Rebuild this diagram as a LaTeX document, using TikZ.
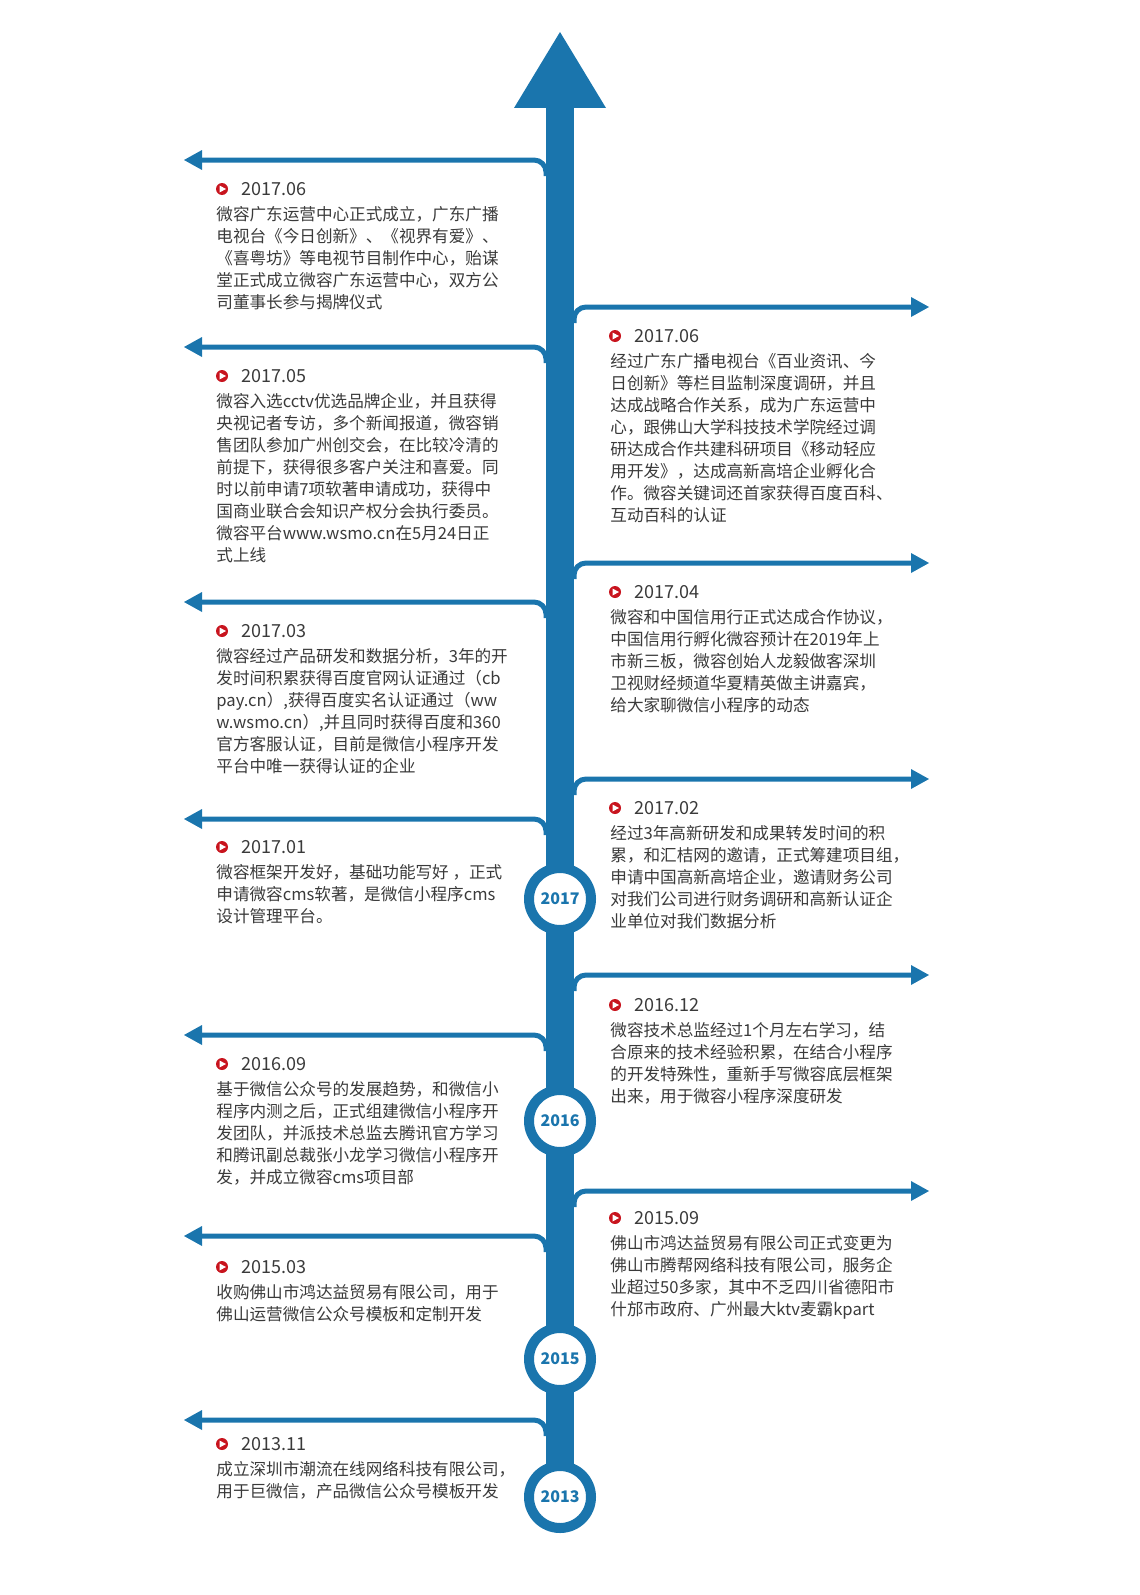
\documentclass[tikz,border=0pt]{standalone}
\usepackage{fontspec}
\setmainfont{Noto Sans CJK SC}
\usetikzlibrary{positioning}
\definecolor{trunkblue}{HTML}{1A75AD}
\definecolor{bulletred}{HTML}{C8141E}
\definecolor{textgray}{HTML}{3A3A3A}
\tikzset{
  txt/.style={anchor=north west,inner sep=0pt,align=left,text=textgray,font=\fontsize{8.3}{11}\selectfont},
  datetxt/.style={anchor=west,inner sep=0pt,text=textgray,font=\fontsize{9}{10}\selectfont},
  yearring/.style={circle,draw=trunkblue,line width=5pt,fill=white,minimum size=31pt,inner sep=0pt,text=trunkblue,font=\bfseries\fontsize{8}{9}\selectfont},
  branch/.style={draw=trunkblue,line width=2.5pt,rounded corners=6pt}
}
\newcommand{\bulletmark}[2]{%
  \fill[bulletred] (#1,#2) circle (6);
  \fill[white] (#1-2.5,#2-3.5) -- (#1+4,#2) -- (#1-2.5,#2+3.5) -- cycle;}
\newcommand{\leftbranch}[1]{%
  \draw[branch] (546,#1+16) |- (200,#1);
  \fill[trunkblue] (184,#1) -- (202,#1-10) -- (202,#1+10) -- cycle;}
\newcommand{\rightbranch}[1]{%
  \draw[branch] (574,#1+16) |- (912,#1);
  \fill[trunkblue] (929,#1) -- (911,#1-10) -- (911,#1+10) -- cycle;}
\newcommand{\lefttext}[4]{%
  \bulletmark{222}{#1}
  \node[datetxt] (#2) at (241,#1) {#3};
  \node[txt] (#2t) at (216,#1+17) {#4};}
\newcommand{\righttext}[4]{%
  \bulletmark{615}{#1}
  \node[datetxt] (#2) at (634,#1) {#3};
  \node[txt] (#2t) at (610,#1+17) {#4};}
\begin{document}
\begin{tikzpicture}[x=0.5pt,y=-0.5pt]
\useasboundingbox (0,0) rectangle (1140,1595);
% trunk
\fill[trunkblue] (546,100) rectangle (574,1480);
\fill[trunkblue] (560,32) -- (606,108) -- (514,108) -- cycle;
% branches
\foreach \yy in {160,347,602,819,1035,1236,1420} {\leftbranch{\yy}}
\foreach \yy in {307,563,779,975,1191} {\rightbranch{\yy}}
% years
\node[yearring] (y2017) at (560,899) {2017};
\node[yearring] (y2016) at (560,1121) {2016};
\node[yearring] (y2015) at (560,1359) {2015};
\node[yearring] (y2013) at (560,1497) {2013};
% left entries
\lefttext{189}{l1}{2017.06}{微容广东运营中心正式成立，广东广播\\电视台《今日创新》、《视界有爱》、\\《喜粤坊》等电视节目制作中心，贻谋\\堂正式成立微容广东运营中心，双方公\\司董事长参与揭牌仪式}
\lefttext{376}{l2}{2017.05}{微容入选cctv优选品牌企业，并且获得\\央视记者专访，多个新闻报道，微容销\\售团队参加广州创交会，在比较冷清的\\前提下，获得很多客户关注和喜爱。同\\时以前申请7项软著申请成功，获得中\\国商业联合会知识产权分会执行委员。\\微容平台www.wsmo.cn在5月24日正\\式上线}
\lefttext{631}{l3}{2017.03}{微容经过产品研发和数据分析，3年的开\\发时间积累获得百度官网认证通过（cb\\pay.cn）,获得百度实名认证通过（ww\\w.wsmo.cn）,并且同时获得百度和360\\官方客服认证，目前是微信小程序开发\\平台中唯一获得认证的企业}
\lefttext{847}{l4}{2017.01}{微容框架开发好，基础功能写好 ，正式\\申请微容cms软著，是微信小程序cms\\设计管理平台。}
\lefttext{1064}{l5}{2016.09}{基于微信公众号的发展趋势，和微信小\\程序内测之后，正式组建微信小程序开\\发团队，并派技术总监去腾讯官方学习\\和腾讯副总裁张小龙学习微信小程序开\\发，并成立微容cms项目部}
\lefttext{1267}{l6}{2015.03}{收购佛山市鸿达益贸易有限公司，用于\\佛山运营微信公众号模板和定制开发}
\lefttext{1444}{l7}{2013.11}{成立深圳市潮流在线网络科技有限公司，\\用于巨微信，产品微信公众号模板开发}
% right entries
\righttext{336}{r1}{2017.06}{经过广东广播电视台《百业资讯、今\\日创新》等栏目监制深度调研，并且\\达成战略合作关系，成为广东运营中\\心，跟佛山大学科技技术学院经过调\\研达成合作共建科研项目《移动轻应\\用开发》，达成高新高培企业孵化合\\作。微容关键词还首家获得百度百科、\\互动百科的认证}
\righttext{592}{r2}{2017.04}{微容和中国信用行正式达成合作协议，\\中国信用行孵化微容预计在2019年上\\市新三板，微容创始人龙毅做客深圳\\卫视财经频道华夏精英做主讲嘉宾，\\给大家聊微信小程序的动态}
\righttext{808}{r3}{2017.02}{经过3年高新研发和成果转发时间的积\\累，和汇桔网的邀请，正式筹建项目组，\\申请中国高新高培企业，邀请财务公司\\对我们公司进行财务调研和高新认证企\\业单位对我们数据分析}
\righttext{1005}{r4}{2016.12}{微容技术总监经过1个月左右学习，结\\合原来的技术经验积累，在结合小程序\\的开发特殊性，重新手写微容底层框架\\出来，用于微容小程序深度研发}
\righttext{1218}{r5}{2015.09}{佛山市鸿达益贸易有限公司正式变更为\\佛山市腾帮网络科技有限公司，服务企\\业超过50多家，其中不乏四川省德阳市\\什邡市政府、广州最大ktv麦霸kpart}
\end{tikzpicture}
\end{document}
